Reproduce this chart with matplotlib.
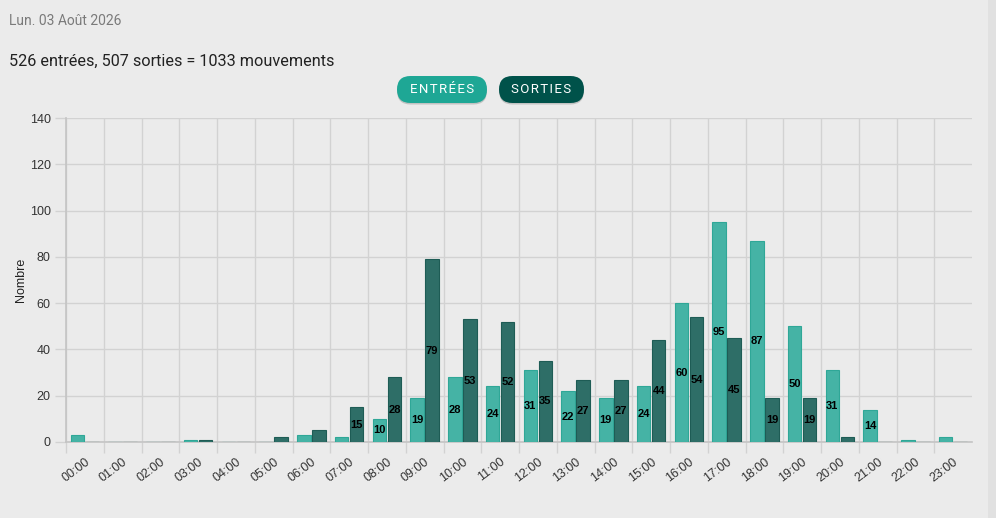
import matplotlib.pyplot as plt
from matplotlib.patches import FancyBboxPatch, Rectangle
import numpy as np

hours = [f"{h:02d}:00" for h in range(24)]
entrees = [3, 0, 0, 1, 0, 0, 3, 2, 10, 19, 28, 24, 31, 22, 19, 24, 60, 95, 87, 50, 31, 14, 1, 2]
sorties = [0, 0, 0, 1, 0, 2, 5, 15, 28, 79, 53, 52, 35, 27, 27, 44, 54, 45, 19, 19, 2, 0, 0, 0]

date_text = "Lun. 03 Août 2026"
summary_text = f"{sum(entrees)} entrées, {sum(sorties)} sorties = {sum(entrees) + sum(sorties)} mouvements"

plt.rcParams["font.family"] = ["Liberation Sans", "DejaVu Sans"]

BG = "#ebebeb"
GRID = "#d2d2d2"
C_IN = "#45b3a5"
C_IN_EDGE = "#2fa797"
C_OUT = "#2e6e67"
C_OUT_EDGE = "#1e5c55"

W, H = 996, 518
fig = plt.figure(figsize=(W / 100, H / 100), dpi=100, facecolor=BG)

# scrollbar strip on the right
fig.patches.append(Rectangle((988 / W, 0), 8 / W, 1, transform=fig.transFigure,
                             facecolor="#e1e1e1", edgecolor="none", zorder=0))

fig.text(9 / W, 1 - 21 / H, date_text, fontsize=10, color="#7a7a7a",
         family="Roboto", va="center", ha="left")
fig.text(9 / W, 1 - 61 / H, summary_text, fontsize=11.7, color="#222222",
         family="Roboto", va="center", ha="left")


# legend buttons
def button(x0, x1, label, color):
    y0, y1 = 76, 103
    h = (y1 - y0)
    sh = FancyBboxPatch((x0 / W, 1 - (y1 + 1.5) / H), (x1 - x0) / W, h / H,
                        boxstyle=f"round,pad=0,rounding_size={h / 2 / W}",
                        transform=fig.transFigure, facecolor="#c2c2c2",
                        edgecolor="none", mutation_aspect=W / H)
    fig.patches.append(sh)
    p = FancyBboxPatch((x0 / W, 1 - y1 / H), (x1 - x0) / W, h / H,
                       boxstyle=f"round,pad=0,rounding_size={h / 2 / W}",
                       transform=fig.transFigure, facecolor=color,
                       edgecolor="none", mutation_aspect=W / H)
    fig.patches.append(p)
    fig.text((x0 + x1) / 2 / W, 1 - (y0 + y1) / 2 / H, "\u200a".join(label),
             fontsize=9.5, color="white", family="Roboto", ha="center",
             va="center")


button(397, 487, "ENTRÉES", "#1ea795")
button(499, 584, "SORTIES", "#00524a")

ax = fig.add_axes([66 / W, 1 - 442 / H, (972 - 66) / W, (442 - 118) / H])
ax.set_facecolor(BG)

x = np.arange(len(hours))
bw = 0.36
b_in = ax.bar(x + 0.3, entrees, width=bw, color=C_IN, edgecolor=C_IN_EDGE,
              linewidth=0.8, zorder=3)
b_out = ax.bar(x + 0.7, sorties, width=bw, color=C_OUT, edgecolor=C_OUT_EDGE,
               linewidth=0.8, zorder=3)

for bars, vals in ((b_in, entrees), (b_out, sorties)):
    for rect, v in zip(bars, vals):
        if v >= 10:
            ax.text(rect.get_x() + rect.get_width() / 2, v / 2, str(v),
                    ha="center", va="center", fontsize=8, fontweight="bold",
                    color="black", zorder=4)

ax.set_xlim(0, 24)
ax.set_ylim(0, 140)
ax.set_yticks(range(0, 141, 20))
ax.set_xticks(range(0, 24))
ax.set_xticklabels([])
ax.set_xticks(x + 0.5, minor=True)
ax.set_xticklabels(hours, minor=True, rotation=37, ha="right", va="top",
                   rotation_mode="anchor", fontsize=9, color="#333333")
ax.tick_params(axis="x", which="minor", length=0, pad=10)
ax.tick_params(axis="x", which="major", length=8, color=GRID, width=1)
ax.tick_params(axis="y", length=8, color=GRID, width=1, pad=3,
               labelsize=9, labelcolor="#333333")

ax.grid(True, which="major", color=GRID, linewidth=1, zorder=0)
ax.set_axisbelow(True)
for side in ("top", "right"):
    ax.spines[side].set_visible(False)
for side in ("left", "bottom"):
    ax.spines[side].set_color("#c4c4c4")
    ax.spines[side].set_linewidth(1.2)

ax.set_ylabel("Nombre", fontsize=9, color="#222222", labelpad=2)

fig.savefig("out.png", dpi=100, facecolor=BG)
